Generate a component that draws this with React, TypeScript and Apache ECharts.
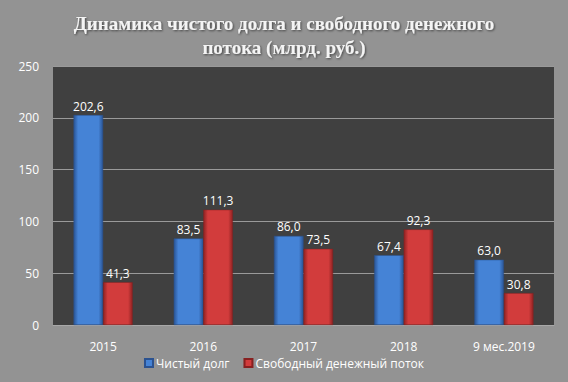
import React, { useEffect, useRef } from "react";
import * as echarts from "echarts";

const categories = ["2015", "2016", "2017", "2018", "9 мес.2019"];
const netDebt = [202.6, 83.5, 86.0, 67.4, 63.0];
const freeCashFlow = [41.3, 111.3, 73.5, 92.3, 30.8];
const seriesNames = ["Чистый долг", "Свободный денежный поток"];
const titleText = "Динамика чистого долга и свободного денежного\nпотока (млрд. руб.)";

const grad = (edge: string, mid: string) =>
  new echarts.graphic.LinearGradient(0, 0, 1, 0, [
    { offset: 0, color: edge },
    { offset: 0.15, color: mid },
    { offset: 0.85, color: mid },
    { offset: 1, color: edge },
  ]);

export default function App() {
  const ref = useRef<HTMLDivElement>(null);
  useEffect(() => {
    if (!ref.current) return;
    const chart = echarts.init(ref.current, undefined, { renderer: "svg" });
    const fmt = (p: any) => Number(p.value).toFixed(1).replace(".", ",");
    const labelStyle = {
      show: true,
      position: "top" as const,
      color: "#ffffff",
      fontFamily: "Open Sans",
      fontSize: 12,
      distance: 3,
      formatter: fmt,
    };
    chart.setOption({
      animation: false,
      backgroundColor: "#939393",
      title: {
        text: titleText,
        left: "center",
        top: 6,
        textStyle: {
          color: "#f4f4f4",
          fontFamily: "Liberation Serif",
          fontWeight: "bold",
          fontSize: 19,
          lineHeight: 24,
          textShadowColor: "rgba(0,0,0,0.55)",
          textShadowBlur: 2,
          textShadowOffsetX: 1,
          textShadowOffsetY: 1,
        },
      },
      legend: {
        data: seriesNames,
        left: "center",
        top: 352,
        itemWidth: 8,
        itemHeight: 8,
        itemGap: 14,
        icon: "rect",
        textStyle: { color: "#ffffff", fontFamily: "Open Sans", fontSize: 12, padding: [0, 0, 0, -2] },
      },
      grid: {
        left: 53,
        right: 14,
        top: 66,
        bottom: 57,
        show: true,
        backgroundColor: "#404040",
        borderWidth: 0,
      },
      xAxis: {
        type: "category",
        data: categories,
        axisLine: { show: true, lineStyle: { color: "#a8a8a8", width: 1 } },
        axisTick: { show: false },
        axisLabel: { color: "#ffffff", fontFamily: "Open Sans", fontSize: 12, margin: 15 },
      },
      yAxis: {
        type: "value",
        min: 0,
        max: 250,
        interval: 50,
        axisLine: { show: false },
        axisTick: { show: false },
        axisLabel: { color: "#ffffff", fontFamily: "Open Sans", fontSize: 12, margin: 14 },
        splitLine: { lineStyle: { color: "#9a9a9a", width: 1 } },
      },
      series: [
        {
          name: seriesNames[0],
          type: "bar",
          data: netDebt,
          barGap: "0%",
          barCategoryGap: "41%",
          itemStyle: { color: grad("#2a5596", "#4583d6"), borderColor: "#2b5290", borderWidth: 0.5 },
          label: labelStyle,
        },
        {
          name: seriesNames[1],
          type: "bar",
          data: freeCashFlow,
          itemStyle: { color: grad("#8f2222", "#d23c3c"), borderColor: "#882020", borderWidth: 0.5 },
          label: labelStyle,
        },
      ],
    });
    return () => chart.dispose();
  }, []);
  return (
    <div
      ref={ref}
      style={{ position: "fixed", left: 0, top: 0, width: 568, height: 382 }}
    />
  );
}
